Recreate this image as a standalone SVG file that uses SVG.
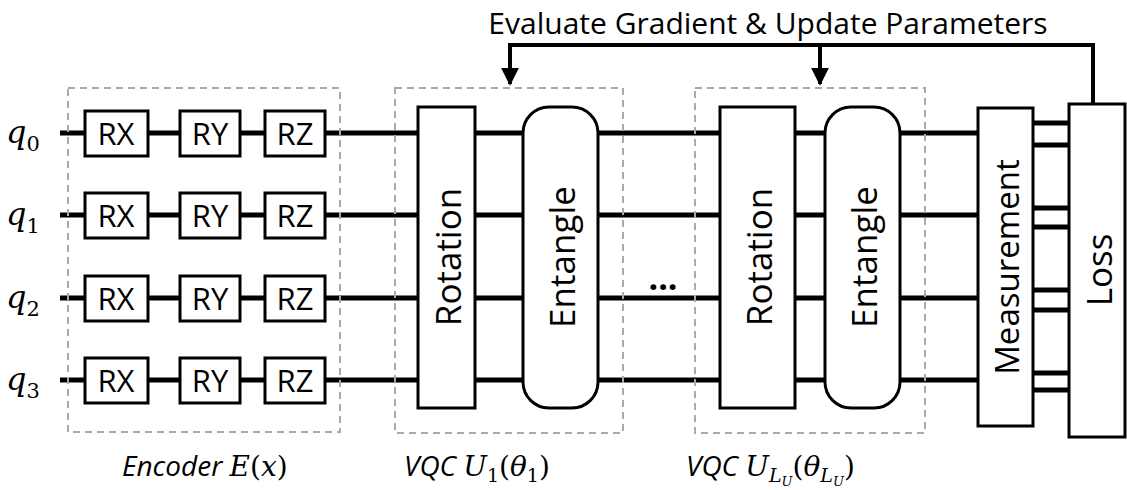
<svg xmlns="http://www.w3.org/2000/svg" width="1127" height="490" viewBox="0 0 1127 490">
<style>
.w{stroke:#000;stroke-width:5;fill:none}
.b{fill:#fff;stroke:#000;stroke-width:3}
.d{fill:none;stroke:#aaa;stroke-width:2;stroke-dasharray:7 5}
.t{font-family:"Open Sans",sans-serif;font-size:31px;text-anchor:middle;dominant-baseline:central}
.vt{font-family:"Open Sans",sans-serif;font-size:35px;text-anchor:middle;dominant-baseline:central}
.m{font-family:"DejaVu Serif",serif;font-style:italic;font-size:32px}
.l{font-family:"Open Sans",sans-serif;font-style:italic;font-size:28px}
.n{font-family:"DejaVu Serif",serif;font-style:normal}
.mi{font-family:"DejaVu Serif",serif;font-style:italic}
</style>
<defs>
<marker id="ah" viewBox="0 0 10 10" refX="9" refY="5" markerWidth="18" markerHeight="18" orient="auto" markerUnits="userSpaceOnUse"><path d="M0,0 L10,5 L0,10 z"/></marker></defs>
<g id="connectors">
<path class="w" d="M60,133H978M60,215H978M60,298H978M60,380H978"/>
<path class="w" d="M1033,123H1069M1033,145H1069M1033,208H1069M1033,227H1069M1033,290H1069M1033,310H1069M1033,373H1069M1033,390H1069"/>
<path class="w" d="M1093,104V45H510V84" marker-end="url(#ah)" style="stroke-width:4"/>
<path class="w" d="M820,45V84" marker-end="url(#ah)" style="stroke-width:4"/>
</g>
<g id="groups">
<rect class="d" x="68" y="88" width="272" height="344"/>
<rect class="d" x="395" y="88" width="228" height="345"/>
<rect class="d" x="695" y="88" width="230" height="345"/>
</g>
<text x="768" y="22" class="t" style="font-size:30px">Evaluate Gradient &amp; Update Parameters</text>
<g id="qlabels">
<text class="m" x="6" y="143">q<tspan class="n" font-size="21" dy="8">0</tspan></text>
<text class="m" x="6" y="225">q<tspan class="n" font-size="21" dy="8">1</tspan></text>
<text class="m" x="6" y="308">q<tspan class="n" font-size="21" dy="8">2</tspan></text>
<text class="m" x="6" y="390">q<tspan class="n" font-size="21" dy="8">3</tspan></text>
</g>
<g id="gates">
<g id="g0"><rect class="b" x="85" y="111" width="63" height="45"/><text class="t" x="116" y="133">RX</text><rect class="b" x="180" y="111" width="60" height="45"/><text class="t" x="210" y="133">RY</text><rect class="b" x="265" y="111" width="60" height="45"/><text class="t" x="295" y="133">RZ</text></g>
<g id="g1"><rect class="b" x="85" y="193" width="63" height="45"/><text class="t" x="116" y="215">RX</text><rect class="b" x="180" y="193" width="60" height="45"/><text class="t" x="210" y="215">RY</text><rect class="b" x="265" y="193" width="60" height="45"/><text class="t" x="295" y="215">RZ</text></g>
<g id="g2"><rect class="b" x="85" y="276" width="63" height="45"/><text class="t" x="116" y="298">RX</text><rect class="b" x="180" y="276" width="60" height="45"/><text class="t" x="210" y="298">RY</text><rect class="b" x="265" y="276" width="60" height="45"/><text class="t" x="295" y="298">RZ</text></g>
<g id="g3"><rect class="b" x="85" y="358" width="63" height="45"/><text class="t" x="116" y="380">RX</text><rect class="b" x="180" y="358" width="60" height="45"/><text class="t" x="210" y="380">RY</text><rect class="b" x="265" y="358" width="60" height="45"/><text class="t" x="295" y="380">RZ</text></g>
</g>
<g id="rot1"><rect class="b" x="418" y="107" width="57" height="301"/><text class="vt" transform="translate(447,257) rotate(-90)">Rotation</text></g>
<g id="ent1"><rect class="b" x="523" y="107" width="75" height="301" rx="26"/><text class="vt" transform="translate(561,257) rotate(-90)">Entangle</text></g>
<g id="rot2"><rect class="b" x="720" y="107" width="75" height="301"/><text class="vt" transform="translate(758,257) rotate(-90)">Rotation</text></g>
<g id="ent2"><rect class="b" x="825" y="107" width="75" height="301" rx="26"/><text class="vt" transform="translate(863,257) rotate(-90)">Entangle</text></g>
<text x="663" y="290" style="font-family:'Open Sans',sans-serif;font-size:34px;font-weight:bold" text-anchor="middle">...</text>
<g id="meas"><rect class="b" x="978" y="108" width="55" height="318"/><text class="vt" style="font-size:33px" transform="translate(1006,267) rotate(-90)">Measurement</text></g>
<g id="loss"><rect class="b" x="1069" y="104" width="56" height="333"/><text class="vt" transform="translate(1098,270) rotate(-90)">Loss</text></g>
<g id="labels">
<text class="l" x="122" y="476">Encoder <tspan class="mi">E</tspan><tspan class="n">(</tspan><tspan class="mi">x</tspan><tspan class="n">)</tspan></text>
<text class="l" x="404" y="476">VQC  <tspan class="mi">U</tspan><tspan class="n" font-size="19" dy="6">1</tspan><tspan class="n" dy="-6">(</tspan><tspan class="mi">θ</tspan><tspan class="n" font-size="19" dy="6">1</tspan><tspan class="n" dy="-6">)</tspan></text>
<text class="l" x="686" y="476">VQC  <tspan class="mi">U</tspan><tspan class="mi" font-size="19" dy="6">L</tspan><tspan class="mi" font-size="13" dy="4">U</tspan><tspan class="n" dy="-10">(</tspan><tspan class="mi">θ</tspan><tspan class="mi" font-size="19" dy="6">L</tspan><tspan class="mi" font-size="13" dy="4">U</tspan><tspan class="n" dy="-10">)</tspan></text>
</g>
</svg>
